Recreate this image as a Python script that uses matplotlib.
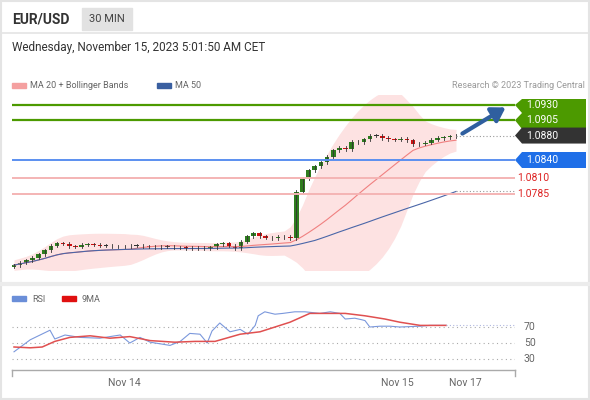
import numpy as np
import pandas as pd
import matplotlib
matplotlib.use("Agg")
import matplotlib.pyplot as plt
from matplotlib.patches import Rectangle, Polygon

plt.rcParams['font.family'] = ['Roboto', 'DejaVu Sans']

# ---- data ----
closes = [1.0668, 1.0672, 1.0676, 1.0680, 1.0686, 1.0692, 1.0700, 1.0704,
          1.0703, 1.0699, 1.0698, 1.0701, 1.0702, 1.0701, 1.0700, 1.0700,
          1.0699, 1.0699, 1.0699, 1.0700, 1.0700, 1.0699, 1.0698, 1.0697,
          1.0698, 1.0698, 1.0697, 1.0697, 1.0696, 1.0696, 1.0695, 1.0696,
          1.0697, 1.0702, 1.0704, 1.0700, 1.0696, 1.0706, 1.0715, 1.0720,
          1.0715, 1.0713, 1.0712, 1.0714, 1.0714, 1.0712, 1.0788, 1.0810,
          1.0823, 1.0830, 1.0836, 1.0845, 1.0856, 1.0860, 1.0858, 1.0870,
          1.0869, 1.0874, 1.0880, 1.0880, 1.0876, 1.0874, 1.0873, 1.0875,
          1.0872, 1.0866, 1.0867, 1.0868, 1.0873, 1.0876, 1.0877, 1.0879,
          1.0880]
opens = [1.0665] + closes[:-1]

rsi_x = [0, 2.7, 6, 6.8, 8.5, 11, 14.3, 17.7, 19.3, 21, 22.7, 26, 27.7, 29.3,
         31, 32.2, 33, 34.3, 36, 37.7, 39, 40.2, 40.7, 41.8, 43.5, 44.8, 46.8,
         48.5, 51, 52.7, 54.3, 55.2, 56.8, 58, 58.5, 59.3, 61, 62.7, 64.3,
         67.7, 69.3, 72]
rsi = [39, 54, 66, 55, 60, 57, 56, 60, 50, 57, 51, 47, 52, 62, 61, 50, 65,
       75, 64, 67, 61, 72, 84, 89, 86, 87, 89, 89, 87, 89, 87, 80, 81, 79, 78,
       70, 71, 71, 70, 71, 72, 72]
ma9_x = [0, 2.7, 4.7, 6.8, 9.3, 12.7, 16, 19.3, 22.7, 26.8, 30.2, 33.5, 37.7,
         41, 46, 49.3, 52.7, 55.2, 58.5, 61.8, 64.3, 67.7, 72]
ma9 = [45, 44, 45, 52, 57, 59, 56, 58, 53, 51, 52, 52, 61, 64, 76, 87, 87,
       87, 84, 80, 76, 72, 72]

levels_green = [1.0930, 1.0905]
level_last = 1.0880
level_blue = 1.0840
levels_red = [1.0810, 1.0785]

# ---- pixel helpers ----
W, H = 590, 400
STEP = 442 / (len(closes) - 1)
def px(y):  # price -> pixel y
    return 160 - (y - 1.0840) * 6111
def pr(y):  # pixel y -> price
    return 1.0840 + (160 - y) / 6111
def ix(x):  # pixel x -> candle index
    return (x - 14) / STEP
def rx(x):  # pixel x -> rsi index
    return (x - 14) / 6.0

fig = plt.figure(figsize=(W / 100, H / 100), dpi=100)
bg = fig.add_axes([0, 0, 1, 1])
bg.set_xlim(0, W); bg.set_ylim(H, 0); bg.axis('off')

# frame
bg.add_patch(Rectangle((1, 1), W - 2, H - 2, fill=False, ec='#e4e4e4', lw=1.5))
bg.plot([1, W - 1], [33, 33], color='#e4e4e4', lw=1.2)
bg.plot([1, W - 1], [284, 284], color='#ececec', lw=3)
bg.text(12, 19, 'EUR/USD', fontsize=10, fontweight='bold', color='#333333', va='center')
bg.add_patch(Rectangle((82, 8), 50, 22, color='#e2e2e2'))
bg.text(107, 19, '30 MIN', fontsize=8, color='#444444', va='center', ha='center')
bg.text(12, 48, 'Wednesday, November 15, 2023 5:01:50 AM CET', fontsize=8.5,
        color='#333333', va='center')
bg.add_patch(Rectangle((12, 83), 14, 5, color='#f4a0a0'))
bg.text(30, 86, 'MA 20 + Bollinger Bands', fontsize=6.5, color='#666666', va='center')
bg.add_patch(Rectangle((157, 83), 14, 5, color='#3a5fa0'))
bg.text(175, 86, 'MA 50', fontsize=6.5, color='#666666', va='center')
bg.text(585, 86, 'Research © 2023 Trading Central', fontsize=6.5, color='#999999',
        va='center', ha='right')
bg.add_patch(Rectangle((12, 296), 14, 5, color='#6a8ed8'))
bg.text(32, 299, 'RSI', fontsize=6.5, color='#666666', va='center')
bg.add_patch(Rectangle((62, 296), 14, 5, color='#e01010'))
bg.text(82, 299, '9MA', fontsize=6.5, color='#666666', va='center')

# price panel
ax = fig.add_axes([12 / W, 1 - 270 / H, (515 - 12) / W, 175 / H])
ax.set_xlim(ix(12), ix(515)); ax.set_ylim(pr(270), pr(95)); ax.axis('off')

c = pd.Series(closes)
ma20 = c.rolling(20, min_periods=1).mean()
sd = c.rolling(20, min_periods=2).std().bfill().rolling(4, min_periods=1, center=True).mean()
ma50 = c.rolling(50, min_periods=1).mean()
idx = np.arange(len(closes))
ax.fill_between(idx, ma20 - 2 * sd - 0.0003, ma20 + 2 * sd + 0.0003, color='#fde2e2', lw=0)
ax.plot(idx, ma20, color='#f08080', lw=0.8)
ax.plot(idx, ma50, color='#4a66a8', lw=0.8)

for i, (o, cl) in enumerate(zip(opens, closes)):
    col = '#2e7d1e' if cl > o + 0.00005 else ('#cc1111' if cl < o - 0.00005 else '#333333')
    hi, lo = max(o, cl) + 0.00025, min(o, cl) - 0.00025
    ax.plot([i, i], [lo, hi], color='#333333', lw=0.6)
    h = max(abs(cl - o), 0.00005)
    ax.add_patch(Rectangle((i - 0.38, min(o, cl)), 0.76, h, color=col, lw=0))

for lv in levels_green:
    ax.axhline(lv, color='#4c9a00', lw=1.6)
ax.axhline(level_blue, color='#5b8ff0', lw=1.4)
for lv in levels_red:
    ax.axhline(lv, color='#f4b4b4', lw=1.4)
last = len(closes) - 1
ax.plot([last, ix(515)], [level_last, level_last], color='#999999', lw=0.8, ls=(0, (1, 2)))
ax.plot([last, ix(515)], [ma50.iloc[-1], ma50.iloc[-1]], color='#999999', lw=0.8, ls=(0, (1, 2)))
ax.annotate('', xy=(ix(508), pr(106)), xytext=(ix(460), pr(135)),
            arrowprops=dict(arrowstyle='-|>,head_width=0.5,head_length=0.8',
                            color='#2f5f9f', lw=3))

# right labels
def tag(yc, color, text, top=None, bot=None):
    t = yc - 8 if top is None else top
    b = yc + 8 if bot is None else bot
    bg.add_patch(Polygon([(515, yc), (522, t), (586, t), (586, b), (522, b)],
                         closed=True, color=color, lw=0))
    bg.text(526, yc, text, fontsize=7.5, color='white', va='center')

tag(px(1.0930), '#4c9a00', '1.0930', top=99, bot=113)
tag(px(1.0905), '#4c9a00', '1.0905', top=113, bot=129)
tag(px(level_last), '#333333', '1.0880')
tag(px(level_blue), '#1f6fe8', '1.0840')
for lv in levels_red:
    bg.text(517, px(lv), f'{lv:.4f}', fontsize=7.5, color='#dd2222', va='center')

# RSI panel
ax2 = fig.add_axes([12 / W, 1 - 368 / H, (515 - 12) / W, 68 / H])
ax2.set_xlim(rx(12), rx(515)); ax2.set_ylim(18.75, 103.75); ax2.axis('off')
for lv in (70, 50, 30):
    ax2.axhline(lv, color='#aaaaaa', lw=0.8, ls=(0, (1, 3)))
    bg.text(524, 327 + (70 - lv) * 0.8, str(lv), fontsize=7.5, color='#666666', va='center')
ax2.plot(rsi_x, rsi, color='#7b98dc', lw=0.8)
ax2.plot(ma9_x, ma9, color='#e05050', lw=1.1)
ax2.plot([72, rx(515)], [72, 72], color='#b0b8e0', lw=0.8, ls=(0, (1, 2)))

# x axis
bg.plot([12, 515], [370, 370], color='#aaaaaa', lw=1)
bg.plot([12, 12], [370, 376], color='#aaaaaa', lw=1)
bg.plot([515, 515], [370, 376], color='#aaaaaa', lw=1)
for x, lab in [(124, 'Nov 14'), (397, 'Nov 15'), (465, 'Nov 17')]:
    bg.text(x, 383, lab, fontsize=7.5, color='#666666', ha='center', va='center')

fig.savefig('out.png', dpi=100)
